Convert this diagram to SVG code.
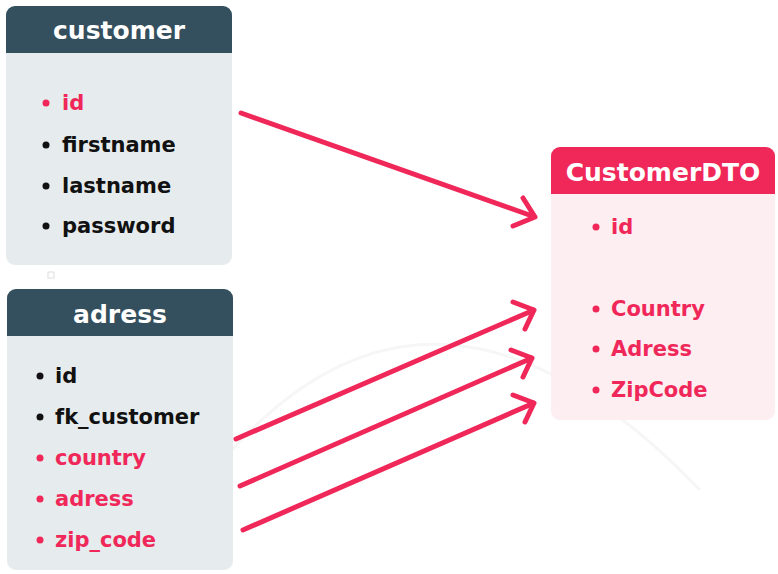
<svg xmlns="http://www.w3.org/2000/svg" width="778" height="574" viewBox="0 0 778 574">
<style>
.hdr{fill:#344f5d}
.hdrR{fill:#f0285a}
.body{fill:#e6ebed}
.bodyR{fill:#fdeef1}
.title{font-family:"DejaVu Sans","Noto Sans",sans-serif;font-weight:700;font-size:25px;fill:#fff;text-anchor:middle}
.row{font-family:"DejaVu Sans","Noto Sans",sans-serif;font-weight:700;font-size:21px;fill:#111}
.red{fill:#f0285a}
.dot{fill:#111}
.dotR{fill:#f0285a}
.conn{fill:none;stroke:#f0285a;stroke-width:5;stroke-linecap:round;stroke-linejoin:round}
</style>
<rect width="778" height="574" fill="#fff"/>
<path d="M232,450 Q440,220 700,490" fill="none" stroke="#f6f6f6" stroke-width="3"/>
<g id="customer">
<rect x="6" y="6" width="226" height="259" rx="9" class="body"/>
<path d="M6,53 V15 a9,9 0 0 1 9,-9 H223 a9,9 0 0 1 9,9 V53 Z" class="hdr"/>
<text x="119" y="39" class="title">customer</text>
<circle cx="46" cy="103" r="3.5" class="dotR"/><text x="62" y="110" class="row red">id</text>
<circle cx="46" cy="145" r="3.5" class="dot"/><text x="62" y="152" class="row">firstname</text>
<circle cx="46" cy="186" r="3.5" class="dot"/><text x="62" y="193" class="row">lastname</text>
<circle cx="46" cy="226" r="3.5" class="dot"/><text x="62" y="233" class="row">password</text>
</g>
<rect x="48" y="272" width="6" height="6" fill="none" stroke="#ddd" stroke-width="1"/>
<g id="adress">
<rect x="7" y="289" width="226" height="281" rx="9" class="body"/>
<path d="M7,336 V298 a9,9 0 0 1 9,-9 H224 a9,9 0 0 1 9,9 V336 Z" class="hdr"/>
<text x="120" y="323" class="title">adress</text>
<circle cx="40" cy="376" r="3.5" class="dot"/><text x="55" y="383" class="row">id</text>
<circle cx="40" cy="417" r="3.5" class="dot"/><text x="55" y="424" class="row">fk_customer</text>
<circle cx="40" cy="458" r="3.5" class="dotR"/><text x="55" y="465" class="row red">country</text>
<circle cx="40" cy="499" r="3.5" class="dotR"/><text x="55" y="506" class="row red">adress</text>
<circle cx="40" cy="540" r="3.5" class="dotR"/><text x="55" y="547" class="row red">zip_code</text>
</g>
<g id="customerdto">
<rect x="551" y="147" width="224" height="273" rx="9" class="bodyR"/>
<path d="M551,194 V156 a9,9 0 0 1 9,-9 H766 a9,9 0 0 1 9,9 V194 Z" class="hdrR"/>
<text x="663" y="181" class="title">CustomerDTO</text>
<circle cx="596" cy="227" r="3.5" class="dotR"/><text x="611" y="234" class="row red">id</text>
<circle cx="596" cy="309" r="3.5" class="dotR"/><text x="611" y="316" class="row red">Country</text>
<circle cx="596" cy="349" r="3.5" class="dotR"/><text x="611" y="356" class="row red">Adress</text>
<circle cx="596" cy="390" r="3.5" class="dotR"/><text x="611" y="397" class="row red">ZipCode</text>
</g>
<g id="connectors">
<path class="conn" d="M241,113 L535,217 M523,198 L535,217 L513,226"/>
<path class="conn" d="M236,439 L534,310 M513,302 L534,310 L525,329"/>
<path class="conn" d="M240,486 L532,358 M511,350 L532,358 L523,377"/>
<path class="conn" d="M243,530 L534,403 M513,395 L534,403 L525,422"/>
</g>
</svg>
